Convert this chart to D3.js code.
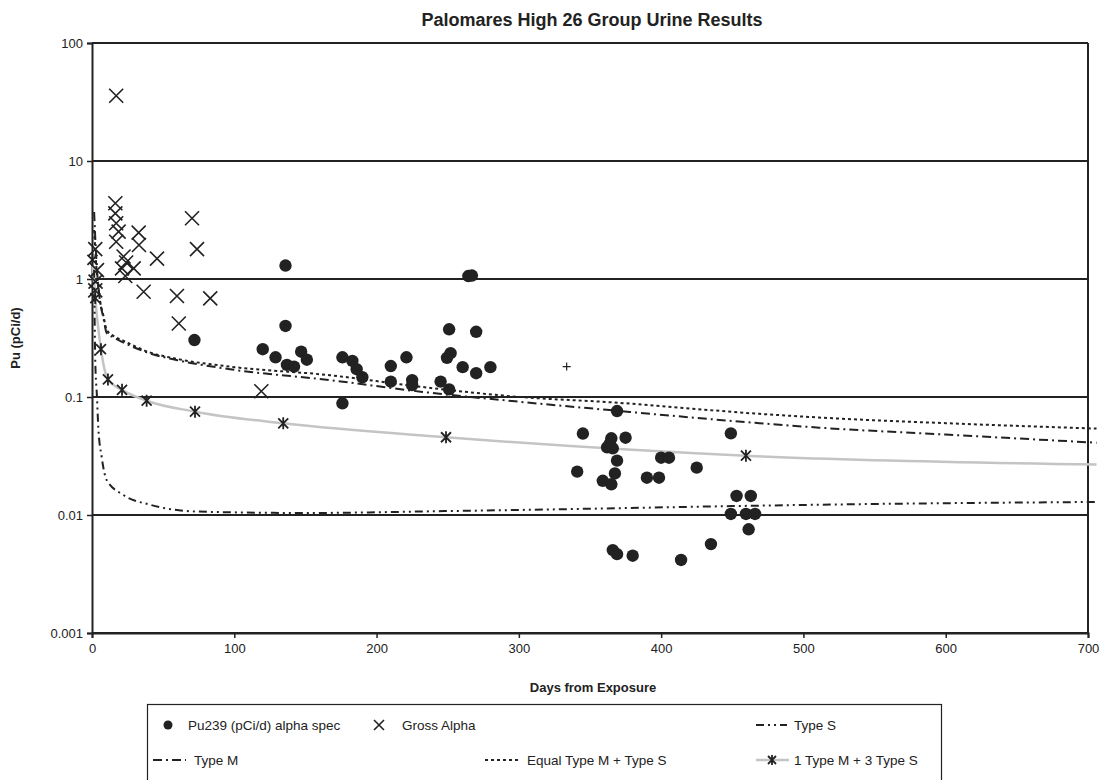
<!DOCTYPE html>
<html>
<head>
<meta charset="utf-8">
<script src="https://cdn.jsdelivr.net/npm/d3@7"></script>
<style>
  html, body { margin: 0; padding: 0; background: #fff; }
  svg { display: block; font-family: "Liberation Sans", Arial, sans-serif; }
</style>
</head>
<body>
<svg id="chart" width="1101" height="780"></svg>
<script>
// ---- data ----
const chartTitle = "Palomares High 26 Group Urine Results";
const xTickValues = [0, 100, 200, 300, 400, 500, 600, 700];
const yTickValues = [0.001, 0.01, 0.1, 1, 10, 100];
const yTickLabels = ["0.001", "0.01", "0.1", "1", "10", "100"];

// Pu239 alpha spectrometry results (day, pCi/d)
const pu239Days = [72, 120, 129, 136, 136, 137, 142, 147, 151, 176, 176, 183, 186, 190,
  210, 210, 221, 225, 225, 245, 249.5, 252, 251, 251, 260.5, 264.5, 267, 270, 270, 280,
  341, 345, 359, 362, 364, 365, 366, 365, 367.5, 369, 369, 375, 366, 369, 380,
  390, 398.5, 400, 405.5, 414, 425, 435, 449, 449, 453, 463, 459.6, 466, 461.5];
const pu239Values = [0.304, 0.254, 0.217, 1.30, 0.40, 0.187, 0.181, 0.242, 0.207, 0.217, 0.0885, 0.202, 0.172, 0.147,
  0.183, 0.135, 0.217, 0.139, 0.126, 0.135, 0.215, 0.235, 0.375, 0.116, 0.179, 1.06, 1.07, 0.357, 0.159, 0.179,
  0.0233, 0.049, 0.0195, 0.0375, 0.0405, 0.0447, 0.0367, 0.0182, 0.0225, 0.0289, 0.076, 0.0452, 0.00504, 0.00466, 0.00452,
  0.0207, 0.0207, 0.0306, 0.0306, 0.00416, 0.0252, 0.00567, 0.0492, 0.0102, 0.0145, 0.0145, 0.0102, 0.0102, 0.00757];

// Gross alpha results (day, pCi/d)
const grossAlphaDays = [17, 16.4, 16.4, 17, 18.7, 17, 32.8, 33, 22.2, 21.1, 29.3, 23.4, 24, 45.7,
  70.3, 73.8, 36.3, 59.7, 83.1, 61, 119, 2.3, 3.5, 2.5, 2.3];
const grossAlphaValues = [35.7, 4.38, 3.6, 2.97, 2.52, 2.07, 2.47, 1.94, 1.55, 1.23, 1.23, 1.06, 1.38, 1.49,
  3.27, 1.79, 0.78, 0.718, 0.685, 0.42, 0.112, 1.79, 1.19, 0.95, 0.8];

// Single unlabeled result
const otherDays = [333.6];
const otherValues = [0.181];

// Model excretion curves
const typeSDays = [1.5, 2.3, 3.5, 4.4, 6.8, 10.3, 22, 41, 74, 150, 250, 350, 450, 550, 706];
const typeSValues = [1.2, 0.2, 0.1, 0.056, 0.031, 0.0198, 0.0148, 0.0122, 0.0107, 0.0104, 0.0108, 0.0113, 0.0119, 0.0124, 0.0129];

const typeMDays = [1.5, 3, 5.6, 8, 10.3, 15, 22, 38, 60, 97, 167, 231, 301, 366, 469, 511, 600, 706];
const typeMValues = [3.7, 1.5, 0.66, 0.47, 0.35, 0.32, 0.29, 0.24, 0.205, 0.172, 0.139, 0.111, 0.091, 0.077, 0.060, 0.055, 0.048, 0.041];

const equalMSDays = [1.5, 3, 5.6, 8, 10.3, 15, 22, 38, 60, 97, 167, 231, 301, 366, 469, 511, 600, 706];
const equalMSValues = [2.6, 1.3, 0.66, 0.49, 0.37, 0.33, 0.30, 0.245, 0.21, 0.181, 0.153, 0.122, 0.100, 0.090, 0.072, 0.067, 0.060, 0.054];

const mix13Days = [0.3, 2.3, 6.3, 11.2, 21.1, 38.4, 72.4, 134.4, 248.8, 459.6, 706];
const mix13Values = [1.45, 0.69, 0.254, 0.141, 0.115, 0.093, 0.0751, 0.0598, 0.0456, 0.0318, 0.0268];

const legendLabels = ["Pu239 (pCi/d) alpha spec", "Gross Alpha", "Type S",
  "Type M", "Equal Type M + Type S", "1 Type M + 3 Type S"];

// ---- layout ----
const svg = d3.select("#chart");
const plot = { left: 92, top: 43, right: 1088, bottom: 633 };

const x = d3.scaleLinear().domain([0, 700]).range([plot.left, plot.right]);
const y = d3.scaleLog().domain([0.001, 100]).range([plot.bottom, plot.top]);

const zip = (a, b) => a.map((d, i) => [d, b[i]]);

// title
svg.append("text")
  .attr("x", 592).attr("y", 26)
  .attr("text-anchor", "middle")
  .attr("font-size", 18).attr("font-weight", "bold")
  .attr("fill", "#222")
  .text(chartTitle);

// horizontal grid lines
svg.append("g").selectAll("line")
  .data(yTickValues)
  .join("line")
  .attr("x1", plot.left).attr("x2", plot.right)
  .attr("y1", d => y(d)).attr("y2", d => y(d))
  .attr("stroke", "#222").attr("stroke-width", 2);

// right border
svg.append("line")
  .attr("x1", plot.right).attr("x2", plot.right)
  .attr("y1", plot.top).attr("y2", plot.bottom)
  .attr("stroke", "#222").attr("stroke-width", 2);

// axes
const yAxis = d3.axisLeft(y)
  .tickValues(yTickValues)
  .tickFormat((d, i) => yTickLabels[i])
  .tickSize(5).tickPadding(4);
const gy = svg.append("g").attr("transform", `translate(${plot.left},0)`).call(yAxis);

const xAxis = d3.axisBottom(x)
  .tickValues(xTickValues)
  .tickFormat(d3.format("d"))
  .tickSize(5).tickPadding(6);
const gx = svg.append("g").attr("transform", `translate(0,${plot.bottom})`).call(xAxis);

[gx, gy].forEach(g => {
  g.select(".domain").attr("stroke", "#222").attr("stroke-width", 2);
  g.selectAll(".tick line").attr("stroke", "#222").attr("stroke-width", 1.5);
  g.selectAll(".tick text").attr("font-size", 13).attr("fill", "#222")
    .attr("font-family", "Liberation Sans, Arial, sans-serif");
});

// axis titles
svg.append("text")
  .attr("x", 593).attr("y", 692)
  .attr("text-anchor", "middle")
  .attr("font-size", 13).attr("font-weight", "bold").attr("fill", "#222")
  .text("Days from Exposure");

svg.append("text")
  .attr("transform", "translate(20,338) rotate(-90)")
  .attr("text-anchor", "middle")
  .attr("font-size", 13).attr("font-weight", "bold").attr("fill", "#222")
  .text("Pu (pCi/d)");

// ---- model curves ----
const line = d3.line()
  .x(d => x(d[0])).y(d => y(d[1]))
  .curve(d3.curveMonotoneX);

const lines = svg.append("g");

lines.append("path")
  .datum(zip(mix13Days, mix13Values))
  .attr("d", line)
  .attr("fill", "none").attr("stroke", "#c4c4c4").attr("stroke-width", 2.5);

lines.append("path")
  .datum(zip(typeSDays, typeSValues))
  .attr("d", line)
  .attr("fill", "none").attr("stroke", "#222").attr("stroke-width", 2)
  .attr("stroke-dasharray", "8,4,2,4,2,4");

lines.append("path")
  .datum(zip(typeMDays, typeMValues))
  .attr("d", line)
  .attr("fill", "none").attr("stroke", "#222").attr("stroke-width", 2)
  .attr("stroke-dasharray", "9,4,2,4");

lines.append("path")
  .datum(zip(equalMSDays, equalMSValues))
  .attr("d", line)
  .attr("fill", "none").attr("stroke", "#222").attr("stroke-width", 2)
  .attr("stroke-dasharray", "3,3");

// ---- markers ----
function xMark(g, s) {
  g.append("path")
    .attr("d", `M${-s},${-s}L${s},${s}M${-s},${s}L${s},${-s}`)
    .attr("stroke", "#222").attr("stroke-width", 1.6).attr("fill", "none");
}
function starMark(g, s) {
  g.append("path")
    .attr("d", `M${-s},${-s}L${s},${s}M${-s},${s}L${s},${-s}M0,${-s - 1}L0,${s + 1}`)
    .attr("stroke", "#222").attr("stroke-width", 1.8).attr("fill", "none");
}

// 1M+3S markers (inside plot range)
svg.append("g").selectAll("g")
  .data(zip(mix13Days, mix13Values).filter(d => d[0] <= 700))
  .join("g")
  .attr("transform", d => `translate(${x(d[0])},${y(d[1])})`)
  .each(function () { starMark(d3.select(this), 5); });

// gross alpha
svg.append("g").selectAll("g")
  .data(zip(grossAlphaDays, grossAlphaValues))
  .join("g")
  .attr("transform", d => `translate(${x(d[0])},${y(d[1])})`)
  .each(function () { xMark(d3.select(this), 7); });

// Pu239 circles
svg.append("g").selectAll("circle")
  .data(zip(pu239Days, pu239Values))
  .join("circle")
  .attr("cx", d => x(d[0])).attr("cy", d => y(d[1]))
  .attr("r", 6.2).attr("fill", "#222");

// single plus marker
svg.append("g").selectAll("path")
  .data(zip(otherDays, otherValues))
  .join("path")
  .attr("transform", d => `translate(${x(d[0])},${y(d[1])})`)
  .attr("d", "M-4,0L4,0M0,-4L0,4")
  .attr("stroke", "#222").attr("stroke-width", 1.2);

// ---- legend ----
const lg = svg.append("g");
lg.append("rect")
  .attr("x", 147.5).attr("y", 704.5).attr("width", 794).attr("height", 80)
  .attr("fill", "#fff").attr("stroke", "#222").attr("stroke-width", 1.2);

const r1 = 725, r2 = 760;
const legText = (xx, yy, t) => lg.append("text")
  .attr("x", xx).attr("y", yy + 5).attr("font-size", 13.5).attr("fill", "#222").text(t);

lg.append("circle").attr("cx", 168).attr("cy", r1).attr("r", 4.5).attr("fill", "#222");
legText(188, r1, legendLabels[0]);

xMark(lg.append("g").attr("transform", `translate(379,${r1})`), 5);
legText(402, r1, legendLabels[1]);

lg.append("line").attr("x1", 756).attr("x2", 787).attr("y1", r1).attr("y2", r1)
  .attr("stroke", "#222").attr("stroke-width", 2).attr("stroke-dasharray", "8,4,2,4,2,4");
legText(794, r1, legendLabels[2]);

lg.append("line").attr("x1", 153).attr("x2", 186).attr("y1", r2).attr("y2", r2)
  .attr("stroke", "#222").attr("stroke-width", 2).attr("stroke-dasharray", "9,4,2,4");
legText(194, r2, legendLabels[3]);

lg.append("line").attr("x1", 485).attr("x2", 521).attr("y1", r2).attr("y2", r2)
  .attr("stroke", "#222").attr("stroke-width", 2).attr("stroke-dasharray", "3,3");
legText(527, r2, legendLabels[4]);

lg.append("line").attr("x1", 756).attr("x2", 789).attr("y1", r2).attr("y2", r2)
  .attr("stroke", "#c4c4c4").attr("stroke-width", 2.5);
starMark(lg.append("g").attr("transform", `translate(772,${r2})`), 4);
legText(794, r2, legendLabels[5]);
</script>
</body>
</html>
